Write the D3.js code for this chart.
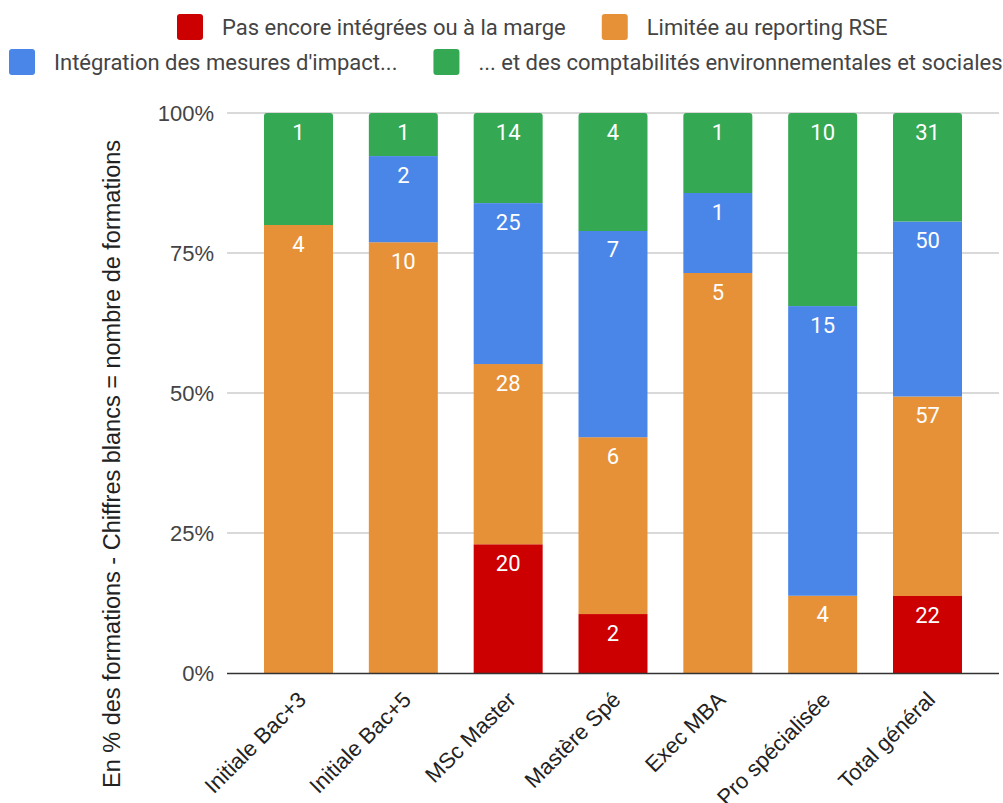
<!DOCTYPE html>
<html><head><meta charset="utf-8">
<script src="https://cdn.jsdelivr.net/npm/d3@7"></script>
<style>body{margin:0;background:#fff}</style>
</head><body>
<svg id="c" width="1003" height="803"></svg>
<script>
const categories = ["Initiale Bac+3","Initiale Bac+5","MSc Master","Mastère Spé","Exec MBA","Pro spécialisée","Total général"];
const seriesNames = ["Pas encore intégrées ou à la marge","Limitée au reporting RSE","Intégration des mesures d'impact...","... et des comptabilités environnementales et sociales"];
const pasEncore = [0,0,20,2,0,0,22];
const limitee = [4,10,28,6,5,4,57];
const integration = [0,2,25,7,1,15,50];
const comptabilites = [1,1,14,4,1,10,31];
const colors = ["#cc0000","#e69138","#4a86e8","#34a853"];
const yTicks = [0,0.25,0.5,0.75,1];
const yTitle = "En % des formations - Chiffres blancs = nombre de formations";

const svg = d3.select("#c");
const keys = ["s0","s1","s2","s3"];
const seriesArr = [pasEncore, limitee, integration, comptabilites];
const rows = categories.map((c,i)=>{const o={cat:c}; keys.forEach((k,j)=>o[k]=seriesArr[j][i]); return o;});
const stacked = d3.stack().keys(keys).offset(d3.stackOffsetExpand)(rows);

const x = d3.scaleBand().domain(categories).range([227,999]).paddingInner(0.342).paddingOuter(0.353);
const y = d3.scaleLinear().domain([0,1]).range([673,113]);

const axisFont = "'Liberation Sans', Arial, sans-serif";
const labFont = "Roboto, 'Noto Sans', sans-serif";

// y axis labels and gridlines
const yAxis = d3.axisLeft(y).tickValues(yTicks).tickFormat(d3.format(".0%")).tickSize(0).tickPadding(13);
const gy = svg.append("g").attr("transform","translate(227,0)").call(yAxis);
gy.select(".domain").remove();
gy.selectAll("text").attr("font-family",axisFont).attr("font-size",22).attr("fill","#444");
svg.append("g").selectAll("line").data(yTicks.filter(d=>d>0)).join("line")
  .attr("x1",227).attr("x2",999).attr("y1",d=>y(d)).attr("y2",d=>y(d))
  .attr("stroke","#cccccc").attr("stroke-width",1.3);

// bars
const topIndex = rows.map((r,i)=>{let t=-1; keys.forEach((k,j)=>{if(seriesArr[j][i]>0)t=j;}); return t;});
const r = 3;
stacked.forEach((s,j)=>{
  const g = svg.append("g").attr("fill",colors[j]);
  s.forEach((d,i)=>{
    if (seriesArr[j][i] <= 0) return;
    const x0 = x(categories[i]), w = x.bandwidth();
    const yt = y(d[1]), yb = y(d[0]);
    if (topIndex[i] === j) {
      const p = d3.path();
      p.moveTo(x0, yb); p.lineTo(x0, yt + r); p.arcTo(x0, yt, x0 + r, yt, r);
      p.lineTo(x0 + w - r, yt); p.arcTo(x0 + w, yt, x0 + w, yt + r, r);
      p.lineTo(x0 + w, yb); p.closePath();
      g.append("path").attr("d", p.toString());
    } else {
      g.append("rect").attr("x",x0).attr("y",yt).attr("width",w).attr("height",yb-yt);
    }
  });
});

// baseline
svg.append("line").attr("x1",227).attr("x2",999).attr("y1",673.5).attr("y2",673.5).attr("stroke","#333").attr("stroke-width",1.5);

// data labels
stacked.forEach((s,j)=>{
  svg.append("g").selectAll("text").data(s.map((d,i)=>({d,i})).filter(o=>seriesArr[j][o.i]>0)).join("text")
    .attr("x",o=>x(categories[o.i])+x.bandwidth()/2)
    .attr("y",o=>y(o.d[1])+26.5)
    .attr("text-anchor","middle").attr("font-family",labFont).attr("font-size",22).attr("fill","#fff")
    .text(o=>seriesArr[j][o.i]);
});

// x labels
const xAxis = d3.axisBottom(x).tickSize(0).tickPadding(0);
const gx = svg.append("g").attr("transform","translate(0,673)").call(xAxis);
gx.select(".domain").remove();
gx.selectAll("text").attr("font-family",axisFont).attr("font-size",22).attr("fill","#222")
  .attr("text-anchor","end").attr("dy",null).attr("y",0)
  .attr("transform","translate(9,28) rotate(-45)");

// y title
svg.append("text").attr("transform","translate(120,464) rotate(-90)").attr("text-anchor","middle")
  .attr("font-family",axisFont).attr("font-size",23.5).attr("fill","#222").text(yTitle);

// legend
const legRows = [{start:177, cy:27, items:[0,1]},{start:9, cy:62, items:[2,3]}];
legRows.forEach(row=>{
  let cx = row.start;
  row.items.forEach(k=>{
    svg.append("rect").attr("x",cx).attr("y",row.cy-13).attr("width",26).attr("height",26).attr("rx",3).attr("fill",colors[k]);
    const t = svg.append("text").attr("x",cx+45).attr("y",row.cy).attr("dy","0.35em")
      .attr("font-family",labFont).attr("font-size",22).attr("fill","#444").text(seriesNames[k]);
    cx = cx + 45 + t.node().getComputedTextLength() + 36;
  });
});
</script>
</body></html>
